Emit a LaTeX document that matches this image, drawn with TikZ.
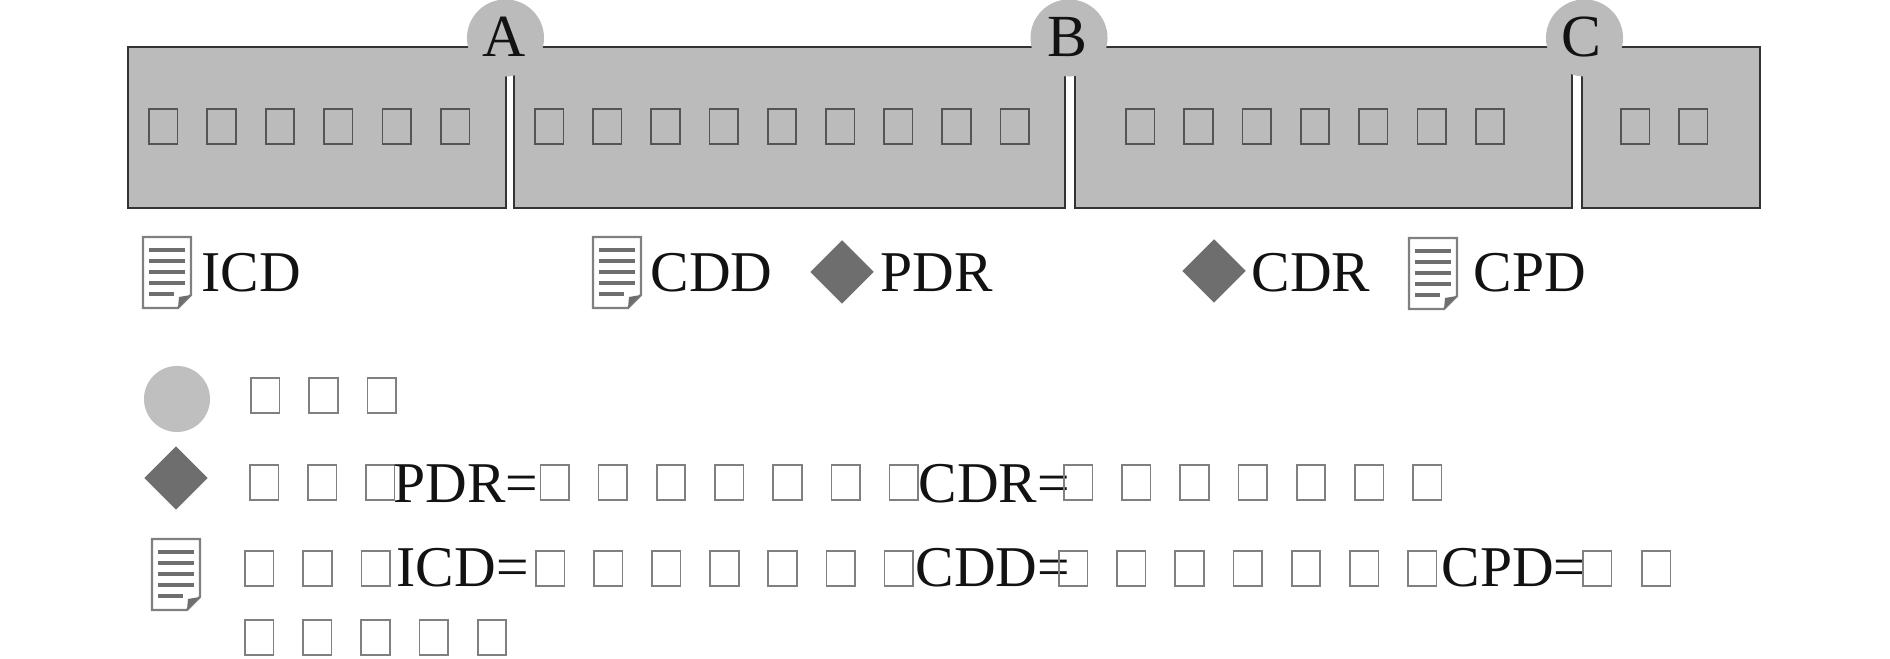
\documentclass[tikz,border=0pt]{standalone}
\usepackage{fontspec}
\setmainfont{Liberation Serif}
\usepackage{tikz}
\usetikzlibrary{shapes.geometric}
\definecolor{barfill}{HTML}{BBBBBB}
\definecolor{dotfill}{HTML}{BFBFBF}
\definecolor{gemfill}{HTML}{6E6E6E}
\definecolor{boxline}{HTML}{555555}
\definecolor{keyline}{HTML}{808080}
\tikzstyle{bar} = [rectangle,draw=black!80,fill=barfill,line width=.6pt,anchor=north west,inner sep=0,minimum height=1.61cm]
\tikzstyle{dot} = [circle,fill=barfill,inner sep=0,minimum size=.77cm]
\tikzstyle{keydot} = [circle,fill=dotfill,inner sep=0,minimum size=.66cm]
\tikzstyle{gem} = [diamond,fill=gemfill,inner sep=0,minimum width=.64cm,minimum height=.64cm]
\tikzstyle{lbl} = [anchor=base west,inner sep=0,font=\fontsize{16.4}{18}\selectfont,text=black!93]
\tikzstyle{tag} = [lbl,anchor=base,font=\fontsize{17}{18}\selectfont]
\tikzstyle{tofu} = [rectangle,draw=boxline,line width=.5pt,anchor=north west,inner sep=0,minimum width=.285cm,minimum height=.35cm]
\tikzstyle{keytofu} = [tofu,draw=keyline]
\tikzset{
	docicon/.pic={
		\draw[draw=keyline,fill=white,line width=.7pt] (0,0) -- (48,0) -- (48,58) -- (35,71) -- (0,71) -- cycle;
		\fill[gemfill] (35,71) -- (36,60) -- (48,58) -- cycle;
		\foreach \y in {13,24,35,46}
			\draw[draw=gemfill,line width=1pt] (6,\y) -- (42,\y);
		\draw[draw=gemfill,line width=1pt] (6,57) -- (31,57);
	}
}

\begin{document}
\begin{tikzpicture}[x=.01cm,y=-.01cm]
	\useasboundingbox (0,0) rectangle (1890,659);

	% bars
	\node[bar,minimum width=3.78cm](bar1) at (127,46) {};
	\node[bar,minimum width=5.51cm](bar2) at (513,46) {};
	\node[bar,minimum width=4.97cm](bar3) at (1074,46) {};
	\node[bar,minimum width=1.78cm](bar4) at (1581,46) {};

	\node[dot](dotA) at (505.5,38) {};
	\node[dot](dotB) at (1069,38) {};
	\node[dot](dotC) at (1584.5,38) {};
	\node[tag](lblA) at (504,57) {A};
	\node[tag](lblB) at (1067,57) {B};
	\node[tag](lblC) at (1581,57) {C};

	% boxes in the bars
	\foreach \i in {0,...,5}
		\node[tofu](ba\i) at (148+58.4*\i,108) {};
	\foreach \i in {0,...,8}
		\node[tofu](bb\i) at (534+58.2*\i,108) {};
	\foreach \i in {0,...,6}
		\node[tofu](bc\i) at (1125+58.3*\i,108) {};
	\foreach \i in {0,1}
		\node[tofu](bd\i) at (1620+58*\i,108) {};

	% marks under the bars
	\pic at (143,237) {docicon};
	\node[lbl](icd) at (201,292) {ICD};
	\pic at (593,237) {docicon};
	\node[lbl](cdd) at (650,292) {CDD};
	\node[gem](gemp) at (842,272) {};
	\node[lbl](pdr) at (880,292) {PDR};
	\node[gem](gemc) at (1214,271) {};
	\node[lbl](cdr) at (1251,292) {CDR};
	\pic at (1409,238) {docicon};
	\node[lbl](cpd) at (1473,292) {CPD};

	% key, first line
	\node[keydot](keyd) at (177,399) {};
	\foreach \i in {0,1,2}
		\node[keytofu](ka\i) at (250+58.3*\i,377) {};

	% key, second line
	\node[gem](keyg) at (176,478) {};
	\foreach \i in {0,1,2}
		\node[keytofu](kb\i) at (249+58*\i,464) {};
	\node[lbl](pdreq) at (393,503) {PDR=};
	\foreach \i in {0,...,6}
		\node[keytofu](kc\i) at (539.5+58.2*\i,464) {};
	\node[lbl](cdreq) at (918,503) {CDR=};
	\foreach \i in {0,...,6}
		\node[keytofu](kd\i) at (1063+58.2*\i,464) {};

	% key, third line
	\pic at (152,539) {docicon};
	\foreach \i in {0,1,2}
		\node[keytofu](ke\i) at (244+58.3*\i,550) {};
	\node[lbl](icdeq) at (396,587) {ICD=};
	\foreach \i in {0,...,6}
		\node[keytofu](kf\i) at (535+58.1*\i,550) {};
	\node[lbl](cddeq) at (915,587) {CDD=};
	\foreach \i in {0,...,6}
		\node[keytofu](kg\i) at (1058+58.2*\i,550) {};
	\node[lbl](cpdeq) at (1441,587) {CPD=};
	\foreach \i in {0,1}
		\node[keytofu](kh\i) at (1582+59*\i,550) {};

	% last line
	\foreach \i in {0,...,4}
		\node[keytofu](ki\i) at (244+58.2*\i,619) {};

\end{tikzpicture}
\end{document}
